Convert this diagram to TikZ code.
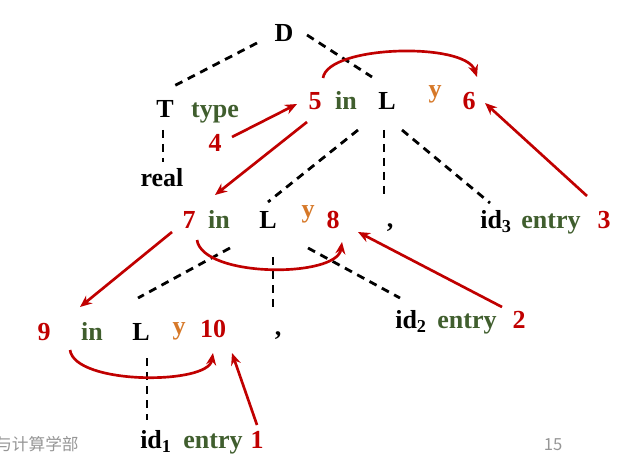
\documentclass[tikz,border=0pt]{standalone}
\usepackage{fontspec}
\setmainfont{Liberation Serif}
\newfontfamily\cjk{Noto Sans CJK SC}
\usetikzlibrary{arrows.meta}
\definecolor{dred}{RGB}{192,0,0}
\definecolor{dgreen}{RGB}{64,94,46}
\definecolor{orng}{RGB}{214,120,40}
\definecolor{gry}{RGB}{150,150,150}
\begin{document}
\begin{tikzpicture}[x=0.75pt,y=-0.75pt,
  lbl/.style={font=\fontsize{19.5}{22}\selectfont\bfseries, inner sep=0pt, anchor=base},
  blk/.style={lbl,text=black},
  grn/.style={lbl,text=dgreen},
  rnum/.style={lbl,text=dred},
  yel/.style={lbl,text=orng},
  foot/.style={font=\cjk\fontsize{12.5}{14}\selectfont, text=gry, inner sep=0pt, anchor=base},
  dsh/.style={draw=black,line width=2.1pt,dash pattern=on 6pt off 4.5pt},
  arr/.style={draw=dred,line width=2pt,-{Stealth[length=9pt,width=7.5pt]}},
]
\useasboundingbox (0,0) rectangle (627,463);
% ---- labels ----
\node[blk] (D) at (284,42) {D};
\node[blk] (T) at (165,118) {T};
\node[grn] (type) at (215,118) {type};
\node[rnum] (n4) at (215,152) {4};
\node[blk] (real) at (162,187) {real};
\node[rnum] (n5) at (315,110) {5};
\node[grn] (in1) at (346,110) {in};
\node[blk] (L1) at (387,110) {L};
\node[yel] (y1) at (435,98) {y};
\node[rnum] (n6) at (469,110) {6};
\node[rnum] (n7) at (189,228) {7};
\node[grn] (in2) at (219,228) {in};
\node[blk] (L2) at (268,228) {L};
\node[yel] (y2) at (308,218) {y};
\node[rnum] (n8) at (333,228) {8};
\node[blk] (c1) at (390,227) {,};
\node[blk,anchor=base west] (id3) at (480,228) {id\textsubscript{3}};
\node[grn] (e3) at (551,228) {entry};
\node[rnum] (n3) at (604,228) {3};
\node[rnum] (n9) at (44,340) {9};
\node[grn] (in3) at (92,340) {in};
\node[blk] (L3) at (141,340) {L};
\node[yel] (y3) at (179,334) {y};
\node[rnum] (n10) at (213,337) {10};
\node[blk] (c2) at (278,335) {,};
\node[blk,anchor=base west] (id2) at (395,328) {id\textsubscript{2}};
\node[grn] (e2) at (467,328) {entry};
\node[rnum] (n2) at (519,328) {2};
\node[blk,anchor=base west] (id1) at (140,448) {id\textsubscript{1}};
\node[grn] (e1) at (213,448) {entry};
\node[rnum] (n1) at (257,448) {1};
\node[foot,anchor=base west] (dept) at (-5,450) {与计算学部};
\node[foot] (pg) at (553,450) {15};
% ---- end points ----
\coordinate (DTa) at (257,43); \coordinate (DTb) at (172,87);
\coordinate (DLa) at (307,35); \coordinate (DLb) at (372,77);
\coordinate (TRa) at (163,130); \coordinate (TRb) at (163,162);
\coordinate (LLa) at (358,130); \coordinate (LLb) at (268,202);
\coordinate (LCa) at (384,130); \coordinate (LCb) at (384,200);
\coordinate (LIa) at (402,130); \coordinate (LIb) at (490,203);
\coordinate (MLa) at (230,248); \coordinate (MLb) at (138,298);
\coordinate (MCa) at (273,257); \coordinate (MCb) at (273,312);
\coordinate (MIa) at (308,248); \coordinate (MIb) at (400,298);
\coordinate (BIa) at (147,358); \coordinate (BIb) at (147,420);
\coordinate (a4) at (232,137); \coordinate (a5) at (297,104);
\coordinate (a5b) at (307,122); \coordinate (a7) at (215,195);
\coordinate (a3) at (587,196); \coordinate (a6) at (485,103);
\coordinate (a7b) at (172,232); \coordinate (a9) at (80,307);
\coordinate (a2) at (502,307); \coordinate (a8) at (358,232);
\coordinate (a1) at (257,425); \coordinate (a10) at (232,353);
\coordinate (u5) at (323,78); \coordinate (u6) at (477,77);
\coordinate (u7) at (197,240); \coordinate (u8) at (342,242);
\coordinate (u9) at (70,350); \coordinate (u10) at (213,353);
% ---- dashed tree edges ----
\draw[dsh] (DTa) -- (DTb);
\draw[dsh] (DLa) -- (DLb);
\draw[dsh] (TRa) -- (TRb);
\draw[dsh] (LLa) -- (LLb);
\draw[dsh] (LCa) -- (LCb);
\draw[dsh] (LIa) -- (LIb);
\draw[dsh] (MLa) -- (MLb);
\draw[dsh] (MCa) -- (MCb);
\draw[dsh] (MIa) -- (MIb);
\draw[dsh] (BIa) -- (BIb);
% ---- red arrows ----
\draw[arr] (a4) -- (a5);
\draw[arr] (a5b) -- (a7);
\draw[arr] (a3) -- (a6);
\draw[arr] (a7b) -- (a9);
\draw[arr] (a2) -- (a8);
\draw[arr] (a1) -- (a10);
\draw[arr] (u5) .. controls (328,45) and (465,42) .. (u6);
\draw[arr] (u7) .. controls (203,278) and (337,278) .. (u8);
\draw[arr] (u9) .. controls (75,385) and (208,385) .. (u10);
\end{tikzpicture}
\end{document}
